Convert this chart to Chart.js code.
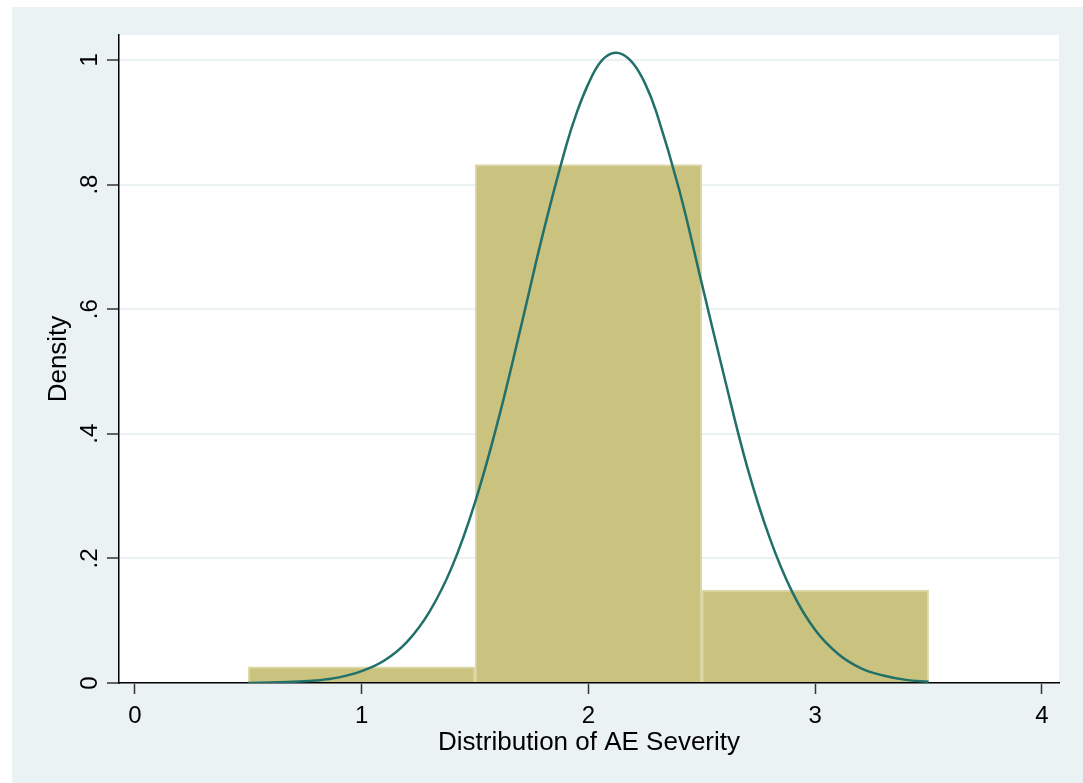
<!DOCTYPE html>
<html>
<head>
<meta charset="utf-8">
<script src="https://cdn.jsdelivr.net/npm/chart.js@4"></script>
<style>
  html, body { margin: 0; padding: 0; background: #ffffff; }
  #wrap { width: 1083px; height: 783px; }
</style>
</head>
<body>
<div id="wrap"><canvas id="hist" width="1083" height="783"></canvas></div>
<script>
// histogram bins (centres) and their densities
const binCenters = [1, 2, 3];
const binDensity = [0.026, 0.832, 0.149];

// normal density overlay
const curveX = [0.5, 0.6, 0.7, 0.8, 0.9, 1.0, 1.1, 1.2, 1.3, 1.4, 1.5, 1.6, 1.7, 1.8, 1.9, 1.95, 2.0, 2.05, 2.1, 2.15, 2.2, 2.25, 2.3, 2.4, 2.5, 2.6, 2.7, 2.8, 2.9, 3.0, 3.1, 3.2, 3.3, 3.4, 3.5];
const curveY = [0.000, 0.001, 0.002, 0.004, 0.009, 0.019, 0.036, 0.066, 0.115, 0.188, 0.290, 0.419, 0.568, 0.722, 0.860, 0.917, 0.962, 0.995, 1.010, 1.009, 0.993, 0.962, 0.916, 0.792, 0.641, 0.490, 0.347, 0.232, 0.145, 0.085, 0.047, 0.024, 0.012, 0.005, 0.002];

const xTicks = [0, 1, 2, 3, 4];
const yTicks = [0, 0.2, 0.4, 0.6, 0.8, 1];
const yTickLabels = ['0', '.2', '.4', '.6', '.8', '1'];

const bgColor = '#EAF2F3';
const tickFont = '24px "Liberation Sans", Arial, sans-serif';

const backdrop = {
    id: 'backdrop',
    beforeDraw(chart) {
        const { ctx, chartArea } = chart;
        ctx.save();
        ctx.fillStyle = '#ffffff';
        ctx.fillRect(0, 0, chart.width, chart.height);
        ctx.fillStyle = bgColor;
        ctx.fillRect(12, 7, chart.width - 12, chart.height - 7);
        ctx.fillStyle = '#ffffff';
        ctx.fillRect(chartArea.left, chartArea.top, chartArea.right - chartArea.left, chartArea.bottom - chartArea.top);
        ctx.restore();
    }
};

// y tick labels in Stata style, turned to read bottom to top
const yLabels = {
    id: 'yLabels',
    afterDraw(chart) {
        const { ctx } = chart;
        const y = chart.scales.y;
        ctx.save();
        ctx.fillStyle = '#000000';
        ctx.font = tickFont;
        ctx.textAlign = 'center';
        ctx.textBaseline = 'alphabetic';
        yTicks.forEach((v, i) => {
            ctx.save();
            ctx.translate(97, y.getPixelForValue(v));
            ctx.rotate(-Math.PI / 2);
            ctx.fillText(yTickLabels[i], 0, 0);
            ctx.restore();
        });
        ctx.restore();
    }
};

new Chart(document.getElementById('hist'), {
    type: 'bar',
    data: {
        datasets: [
            {
                type: 'line',
                data: curveX.map((x, i) => ({ x: x, y: curveY[i] })),
                borderColor: '#21706A',
                borderWidth: 2.5,
                pointRadius: 0,
                fill: false,
                tension: 0.4,
                order: 0
            },
            {
                type: 'bar',
                data: binCenters.map((x, i) => ({ x: x, y: binDensity[i] })),
                backgroundColor: '#CAC27F',
                borderColor: '#DDD8A8',
                borderWidth: 2,
                barPercentage: 1,
                categoryPercentage: 1,
                order: 1
            }
        ]
    },
    options: {
        responsive: false,
        devicePixelRatio: 1,
        animation: false,
        layout: { padding: { left: 12, top: 35, right: 24, bottom: 0 } },
        plugins: {
            legend: { display: false },
            tooltip: { enabled: false }
        },
        scales: {
            x: {
                type: 'linear',
                offset: false,
                min: -0.07,
                max: 4.075,
                afterFit(scale) { scale.height = 100; },
                afterBuildTicks(scale) { scale.ticks = xTicks.map(v => ({ value: v })); },
                border: { display: true, color: '#000000', width: 1.5 },
                grid: { offset: false, drawOnChartArea: false, drawTicks: true, tickLength: 11, tickColor: '#333333', tickWidth: 1.5 },
                ticks: {
                    color: '#000000',
                    padding: 8,
                    maxRotation: 0,
                    font: { family: '"Liberation Sans", Arial, sans-serif', size: 24 },
                    callback: v => String(v)
                },
                title: {
                    display: true,
                    text: 'Distribution of AE Severity',
                    color: '#000000',
                    font: { family: '"Liberation Sans", Arial, sans-serif', size: 26 },
                    padding: { top: 0, bottom: 25 }
                }
            },
            y: {
                min: 0,
                max: 1.04,
                afterFit(scale) { scale.width = 107; },
                afterBuildTicks(scale) { scale.ticks = yTicks.map(v => ({ value: v })); },
                border: { display: true, color: '#000000', width: 1.5 },
                grid: { color: bgColor, lineWidth: 2, drawTicks: true, tickLength: 12, tickColor: '#333333', tickWidth: 1.5 },
                ticks: { display: false },
                title: {
                    display: true,
                    text: 'Density',
                    color: '#000000',
                    font: { family: '"Liberation Sans", Arial, sans-serif', size: 26 },
                    padding: { top: 31, bottom: 0 }
                }
            }
        }
    },
    plugins: [backdrop, yLabels]
});
</script>
</body>
</html>
